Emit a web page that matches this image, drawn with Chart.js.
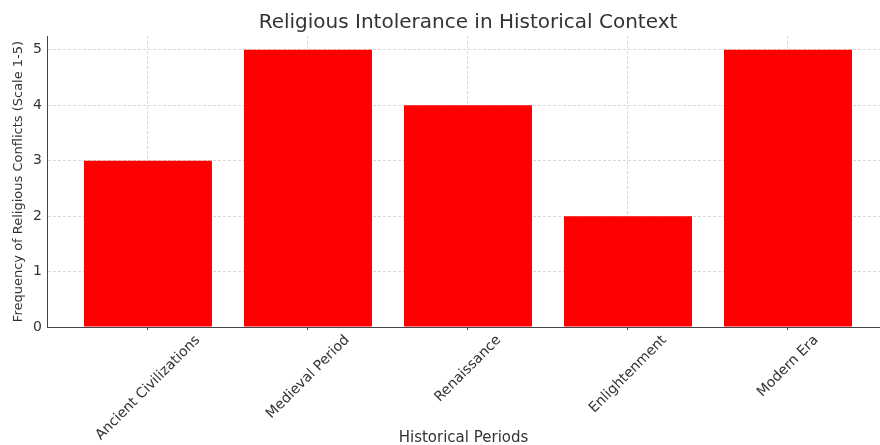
<!DOCTYPE html>
<html>
<head>
<meta charset="utf-8">
<script src="https://cdn.jsdelivr.net/npm/chart.js@4/dist/chart.umd.min.js"></script>
<style>
  html, body { margin: 0; padding: 0; background: #fff; overflow: hidden; }
</style>
</head>
<body>
<canvas id="chart" width="880" height="445"></canvas>
<script>
// dados do gráfico
const chartTitle = "Religious Intolerance in Historical Context";
const categories = ["Ancient Civilizations", "Medieval Period", "Renaissance", "Enlightenment", "Modern Era"];
const conflictValues = [3, 5, 4, 2, 5];
const yTicks = [0, 1, 2, 3, 4, 5];

const FONT = "'DejaVu Sans', sans-serif";
const TEXT = "#333333";
const LABEL_SIZE = 14;
const gridColor = "rgba(190,190,190,0.6)";

// rótulos do eixo x girados e centralizados + título centrado sobre os eixos
const customText = {
  id: "customText",
  afterDraw(chart) {
    const ctx = chart.ctx;
    const xs = chart.scales.x;
    ctx.save();
    ctx.fillStyle = TEXT;

    // título (centro dos eixos no matplotlib, limite -0.64 .. 4.64)
    ctx.font = "20px " + FONT;
    ctx.textAlign = "center";
    ctx.textBaseline = "middle";
    const cx = (xs.getPixelForValue(-0.64) + xs.getPixelForValue(4.64)) / 2;
    ctx.fillText(chartTitle, cx, 23);

    ctx.font = LABEL_SIZE + "px " + FONT;
    const a = Math.PI / 4;
    categories.forEach(function (label, i) {
      const w = ctx.measureText(label).width;
      const boxH = w * Math.sin(a) + LABEL_SIZE * Math.cos(a);
      const px = xs.getPixelForValue(i);
      const py = xs.top + 6 + boxH / 2;
      ctx.save();
      ctx.translate(px, py);
      ctx.rotate(-a);
      ctx.fillText(label, 0, 0);
      ctx.restore();
    });
    ctx.restore();
  }
};

new Chart(document.getElementById("chart"), {
  type: "bar",
  data: {
    datasets: [
      {
        data: conflictValues.map(function (v, i) { return { x: i, y: v }; }),
        backgroundColor: "#ff0000",
        borderWidth: 0,
        barPercentage: 0.8,
        categoryPercentage: 1
      }
    ]
  },
  options: {
    responsive: false,
    animation: false,
    devicePixelRatio: 1,
    layout: { padding: { top: 36, left: 0, right: 0, bottom: 0 } },
    plugins: {
      legend: { display: false },
      tooltip: { enabled: false },
      title: { display: false }
    },
    scales: {
      x: {
        type: "linear",
        offset: false,
        min: -0.631,
        max: 4.575,
        z: 1,
        afterBuildTicks: function (scale) {
          scale.ticks = categories.map(function (c, i) { return { value: i }; });
        },
        afterFit: function (scale) { scale.height = 118; },
        ticks: { display: false },
        grid: {
          offset: false,
          color: gridColor,
          tickColor: "#444",
          tickLength: 3,
          lineWidth: 1
        },
        border: { display: true, color: "#444", width: 1, dash: [3, 2] },
        title: {
          display: true,
          text: "Historical Periods",
          color: TEXT,
          font: { family: FONT, size: 15 },
          padding: { top: 0, bottom: -2 }
        }
      },
      y: {
        min: 0,
        max: 5.25,
        z: 1,
        afterBuildTicks: function (scale) {
          scale.ticks = yTicks.map(function (v) { return { value: v }; });
        },
        afterFit: function (scale) { scale.width = 47; },
        ticks: {
          color: TEXT,
          font: { family: FONT, size: 14 },
          padding: 5
        },
        grid: {
          color: function (c) { return c.tick && c.tick.value === 0 ? "rgba(0,0,0,0)" : gridColor; },
          drawTicks: false,
          lineWidth: 1
        },
        border: { display: true, color: "#444", width: 1, dash: [3, 2] },
        title: {
          display: true,
          text: "Frequency of Religious Conflicts (Scale 1-5)",
          color: TEXT,
          font: { family: FONT, size: 13 },
          padding: { top: 11, bottom: 0 }
        }
      }
    }
  },
  plugins: [customText]
});
</script>
</body>
</html>
